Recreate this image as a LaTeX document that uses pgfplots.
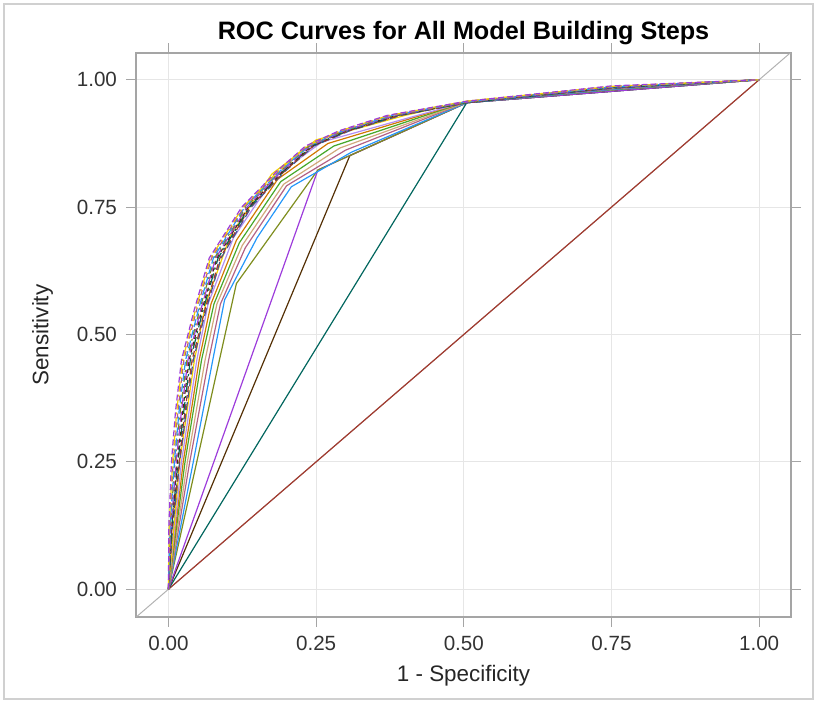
\documentclass[border=0pt]{standalone}
\usepackage{fontspec}
\setmainfont{Liberation Sans}
\usepackage{pgfplots}
\pgfplotsset{compat=1.18}
\definecolor{cRed}{HTML}{A23A2E}
\definecolor{cTeal}{HTML}{01665E}
\definecolor{cBrown}{HTML}{543005}
\definecolor{cPurple}{HTML}{9D3CDB}
\definecolor{cOlive}{HTML}{7F8E1F}
\definecolor{cLBlue}{HTML}{2597FA}
\definecolor{cPink}{HTML}{B26084}
\definecolor{cTan}{HTML}{D1A97C}
\definecolor{cGreen}{HTML}{47A82A}
\definecolor{cOrange}{HTML}{D17800}
\definecolor{cLav}{HTML}{B38EF3}
\definecolor{cYellow}{HTML}{F2D000}
\definecolor{cBlue}{HTML}{445694}
\definecolor{cGrid}{HTML}{E6E6E6}
\definecolor{cFrame}{HTML}{A5A5A5}
\definecolor{cBorder}{HTML}{D0D0D0}
\begin{document}
\begin{tikzpicture}
\useasboundingbox (-68pt,-42.65pt) rectangle (340.5pt,308.35pt);
\draw[cBorder, line width=0.6pt] (-66pt,-41.15pt) rectangle (338.5pt,306.35pt);
\begin{axis}[
  scale only axis,
  width=327.5pt, height=281.7pt,
  xmin=-0.055, xmax=1.054, ymin=-0.054, ymax=1.052,
  xtick={0,0.25,0.5,0.75,1}, ytick={0,0.25,0.5,0.75,1},
  xticklabels={0.00,0.25,0.50,0.75,1.00},
  yticklabels={0.00,0.25,0.50,0.75,1.00},
  /pgf/number format/assume math mode=true,
  tick align=outside, major tick length=5pt,
  tick style={cFrame, line width=0.6pt},
  axis line style={cFrame, line width=0.9pt},
  grid=major, major grid style={cGrid, line width=0.6pt},
  tick label style={font=\fontsize{10.3pt}{12pt}\selectfont, text=black!80},
  xticklabel style={anchor=north, yshift=-1pt},
  yticklabel style={anchor=east, xshift=-1pt},
  xlabel={1 - Specificity}, ylabel={Sensitivity},
  label style={font=\fontsize{11.2pt}{13pt}\selectfont, text=black!85},
  xlabel style={at={(axis description cs:0.5,-0.105)}, anchor=center},
  ylabel style={at={(axis description cs:-0.1428,0.5)}, anchor=center},
  title={\textbf{ROC Curves for All Model Building Steps}},
  every axis title shift=0pt,
  title style={font=\fontsize{12.6pt}{15pt}\selectfont, at={(axis description cs:0.5,1.0355)}, anchor=center},
  every axis plot/.append style={line width=0.6pt},
  clip=true,
]
% reference line
\addplot[color=black!30, line width=0.5pt] coordinates {(-0.06,-0.06) (1.06,1.06)};
% step 0
\addplot[cRed] coordinates {(0,0) (1,1)};
% step 1
\addplot[cTeal] coordinates {(0,0) (0.505,0.955) (1,1)};
% step 2
\addplot[cBrown] coordinates {(0,0) (0.307,0.851) (0.505,0.955) (1,1)};
% step 3
\addplot[cPurple] coordinates {(0,0) (0.253,0.823) (0.505,0.955) (1,1)};
% step 4
\addplot[cOlive] coordinates {(0,0) (0.115,0.600) (0.253,0.823) (0.505,0.955) (0.75,0.980) (1,1)};
% step 5
\addplot[cLBlue] coordinates {(0,0) (0.042,0.25) (0.075,0.45) (0.095,0.568) (0.150,0.690) (0.208,0.790) (0.310,0.858) (0.505,0.955) (0.75,0.981) (1,1)};
% step 6
\addplot[cPink] coordinates {(0,0) (0.036,0.25) (0.068,0.45) (0.088,0.560) (0.130,0.670) (0.200,0.792) (0.300,0.862) (0.505,0.956) (0.75,0.982) (1,1)};
% step 7
\addplot[cTan] coordinates {(0,0) (0.032,0.25) (0.062,0.45) (0.082,0.560) (0.125,0.675) (0.195,0.795) (0.290,0.866) (0.505,0.956) (0.75,0.983) (1,1)};
% step 8
\addplot[cGreen] coordinates {(0,0) (0.028,0.25) (0.056,0.45) (0.077,0.560) (0.120,0.680) (0.190,0.800) (0.280,0.870) (0.505,0.957) (0.75,0.984) (1,1)};
% step 9
\addplot[cOrange] coordinates {(0,0) (0.025,0.25) (0.052,0.45) (0.072,0.560) (0.115,0.685) (0.185,0.805) (0.270,0.875) (0.505,0.957) (0.75,0.985) (1,1)};
% step 10
\addplot[cLav] coordinates {(0,0) (0.022,0.25) (0.048,0.45) (0.067,0.560) (0.110,0.690) (0.180,0.810) (0.260,0.878) (0.505,0.957) (0.75,0.985) (1,1)};
% step 11
\addplot[cYellow] coordinates {(0,0) (0.019,0.25) (0.044,0.45) (0.063,0.560) (0.105,0.695) (0.175,0.815) (0.250,0.882) (0.400,0.930) (0.505,0.958) (0.75,0.986) (1,1)};
% steps 12-21 (dashed)
\addplot[cBlue, dash pattern=on 4pt off 2pt] coordinates {(0,0) (0.007,0.12) (0.019,0.25) (0.030,0.35) (0.042,0.45) (0.064,0.55) (0.089,0.65) (0.140,0.75) (0.197,0.82) (0.246,0.87) (0.307,0.90) (0.393,0.93) (0.505,0.955) (0.75,0.983) (1,1)};
\addplot[cRed, dash pattern=on 3pt off 1.5pt] coordinates {(0,0) (0.006,0.12) (0.018,0.25) (0.028,0.35) (0.040,0.45) (0.062,0.55) (0.087,0.65) (0.138,0.75) (0.196,0.82) (0.245,0.87) (0.305,0.90) (0.390,0.93) (0.505,0.955) (0.75,0.984) (1,1)};
\addplot[cTeal, dash pattern=on 6pt off 2pt on 1pt off 2pt] coordinates {(0,0) (0.0055,0.12) (0.016,0.25) (0.026,0.35) (0.037,0.45) (0.059,0.55) (0.084,0.65) (0.137,0.75) (0.194,0.82) (0.243,0.87) (0.303,0.90) (0.388,0.93) (0.505,0.955) (0.75,0.984) (1,1)};
\addplot[cBrown, dash pattern=on 2pt off 1.5pt] coordinates {(0,0) (0.005,0.12) (0.015,0.25) (0.024,0.35) (0.035,0.45) (0.057,0.55) (0.082,0.65) (0.135,0.75) (0.193,0.82) (0.242,0.87) (0.301,0.90) (0.385,0.93) (0.505,0.956) (0.75,0.985) (1,1)};
\addplot[cPurple, dash pattern=on 5pt off 2pt] coordinates {(0,0) (0.004,0.12) (0.013,0.25) (0.022,0.35) (0.033,0.45) (0.055,0.55) (0.080,0.65) (0.133,0.75) (0.191,0.82) (0.240,0.87) (0.299,0.90) (0.383,0.93) (0.505,0.956) (0.75,0.985) (1,1)};
\addplot[cOlive, dash pattern=on 3pt off 2pt on 1pt off 2pt] coordinates {(0,0) (0.003,0.12) (0.011,0.25) (0.020,0.35) (0.031,0.45) (0.053,0.55) (0.078,0.65) (0.131,0.75) (0.189,0.82) (0.238,0.87) (0.297,0.90) (0.380,0.93) (0.505,0.956) (0.75,0.986) (1,1)};
\addplot[cLBlue, dash pattern=on 4pt off 1.5pt] coordinates {(0,0) (0.0025,0.12) (0.010,0.25) (0.018,0.35) (0.029,0.45) (0.051,0.55) (0.076,0.65) (0.129,0.75) (0.188,0.82) (0.237,0.87) (0.295,0.90) (0.378,0.93) (0.505,0.957) (0.75,0.986) (1,1)};
\addplot[cPink, dash pattern=on 2.5pt off 2pt] coordinates {(0,0) (0.002,0.12) (0.008,0.25) (0.016,0.35) (0.026,0.45) (0.048,0.55) (0.073,0.65) (0.128,0.75) (0.186,0.82) (0.235,0.87) (0.293,0.90) (0.375,0.93) (0.505,0.957) (0.75,0.987) (1,1)};
\addplot[cYellow, dash pattern=on 5pt off 1.5pt on 1pt off 1.5pt] coordinates {(0,0) (0.001,0.12) (0.007,0.25) (0.014,0.35) (0.024,0.45) (0.046,0.55) (0.071,0.65) (0.126,0.75) (0.185,0.82) (0.234,0.87) (0.291,0.90) (0.373,0.93) (0.505,0.958) (0.75,0.987) (1,1)};
\addplot[cPurple, dash pattern=on 3pt off 1.5pt] coordinates {(0,0) (0.0005,0.12) (0.005,0.25) (0.012,0.35) (0.022,0.45) (0.044,0.55) (0.069,0.65) (0.124,0.75) (0.183,0.82) (0.232,0.87) (0.289,0.90) (0.370,0.93) (0.505,0.958) (0.75,0.988) (1,1)};
\end{axis}
\end{tikzpicture}
\end{document}
